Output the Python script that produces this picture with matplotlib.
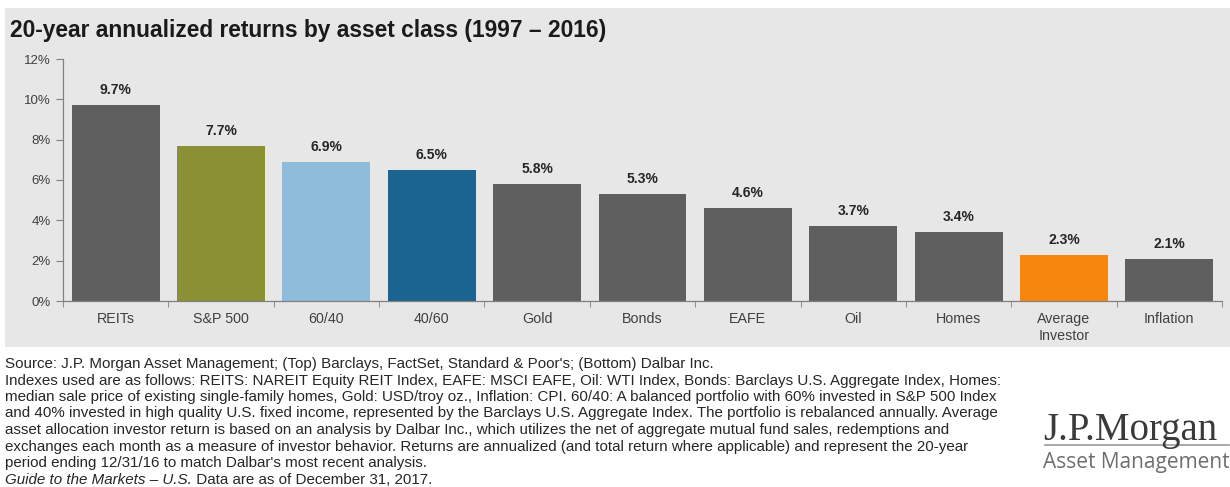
import matplotlib.pyplot as plt
from matplotlib.patches import Rectangle
import numpy as np

categories = ["REITs", "S&P 500", "60/40", "40/60", "Gold", "Bonds", "EAFE",
              "Oil", "Homes", "Average\nInvestor", "Inflation"]
returns = [9.7, 7.7, 6.9, 6.5, 5.8, 5.3, 4.6, 3.7, 3.4, 2.3, 2.1]
bar_colors = ["#5f5f5f", "#8b9034", "#8fbcdb", "#1b6391", "#5f5f5f", "#5f5f5f",
              "#5f5f5f", "#5f5f5f", "#5f5f5f", "#f7860f", "#5f5f5f"]
yticks = [0, 2, 4, 6, 8, 10, 12]

title = "20-year annualized returns by asset class (1997 \u2013 2016)"
notes = [
    "Source: J.P. Morgan Asset Management; (Top) Barclays, FactSet, Standard & Poor's; (Bottom) Dalbar Inc.",
    "Indexes used are as follows: REITS: NAREIT Equity REIT Index, EAFE: MSCI EAFE, Oil: WTI Index, Bonds: Barclays U.S. Aggregate Index, Homes:",
    "median sale price of existing single-family homes, Gold: USD/troy oz., Inflation: CPI. 60/40: A balanced portfolio with 60% invested in S&P 500 Index",
    "and 40% invested in high quality U.S. fixed income, represented by the Barclays U.S. Aggregate Index. The portfolio is rebalanced annually. Average",
    "asset allocation investor return is based on an analysis by Dalbar Inc., which utilizes the net of aggregate mutual fund sales, redemptions and",
    "exchanges each month as a measure of investor behavior. Returns are annualized (and total return where applicable) and represent the 20-year",
    "period ending 12/31/16 to match Dalbar's most recent analysis.",
]
guide_italic = "Guide to the Markets \u2013 U.S."
guide_rest = " Data are as of December 31, 2017."

plt.rcParams['font.family'] = ['Liberation Sans', 'DejaVu Sans']

W, H = 1230, 487
fig = plt.figure(figsize=(W / 100, H / 100), dpi=100)
fig.patch.set_facecolor("white")

# gray panel behind the chart
fig.patches.append(Rectangle((5 / W, 1 - 347 / H), 1 - 5 / W, (347 - 8) / H,
                             transform=fig.transFigure, facecolor="#e7e7e7",
                             edgecolor="none", zorder=-5))

fig.text(10 / W, 1 - 31 / H, title, fontsize=16.4, fontweight="bold",
         color="#1a1a1a", va="center", ha="left")

ax = fig.add_axes([63 / W, 1 - 301 / H, (1222 - 63) / W, (301 - 59) / H])
ax.set_facecolor("none")
x = np.arange(len(categories))
ax.bar(x, returns, width=0.835, color=bar_colors, zorder=2)
for xi, v in zip(x, returns):
    ax.text(xi, v + 0.4, f"{v:.1f}%", ha="center", va="bottom",
            fontsize=10, fontweight="bold", color="#262626")

ax.set_xlim(-0.5, len(categories) - 0.5)
ax.set_ylim(0, 12)
ax.set_yticks(yticks)
ax.set_yticklabels([f"{t}%" for t in yticks], fontsize=9.5, color="#404040")
ax.set_xticks(x)
ax.set_xticklabels(categories, fontsize=10.3, color="#404040", linespacing=1.25)
ax.tick_params(axis="x", length=0, pad=8)
ax.set_xticks(np.arange(len(categories) + 1) - 0.5, minor=True)
ax.tick_params(axis="x", which="minor", length=4, color="#808080")
ax.tick_params(axis="y", length=5, color="#808080", pad=4)
for s in ["top", "right"]:
    ax.spines[s].set_visible(False)
for s in ["left", "bottom"]:
    ax.spines[s].set_color("#808080")
    ax.spines[s].set_linewidth(0.9)

# footnotes
fs = 10.9
y0 = 1 - 364 / H
dy = 16.5 / H
for i, line in enumerate(notes):
    fig.text(5 / W, y0 - i * dy, line, fontsize=fs, color="#262626",
             va="center", ha="left")
gy = y0 - len(notes) * dy
t1 = fig.text(5 / W, gy, guide_italic, fontsize=fs, color="#262626",
              style="italic", va="center", ha="left")
fig.canvas.draw()
bb = t1.get_window_extent()
fig.text(bb.x1 / W, gy, guide_rest, fontsize=fs, color="#262626",
         va="center", ha="left")

# logo
fig.text(1043 / W, 1 - 440 / H, "J.P.Morgan", family="Liberation Serif",
         fontsize=28, color="#3a3a3a", va="baseline", ha="left")
fig.add_artist(plt.Line2D([1045 / W, 1 - 1 / W], [1 - 445 / H, 1 - 445 / H],
                          transform=fig.transFigure, color="#9a9a9a", lw=1.2))
fig.text(1043 / W, 1 - 468 / H, "Asset Management", family="Open Sans",
         fontsize=15, color="#6e6e6e", va="baseline", ha="left")

fig.savefig("out.png", dpi=100)
